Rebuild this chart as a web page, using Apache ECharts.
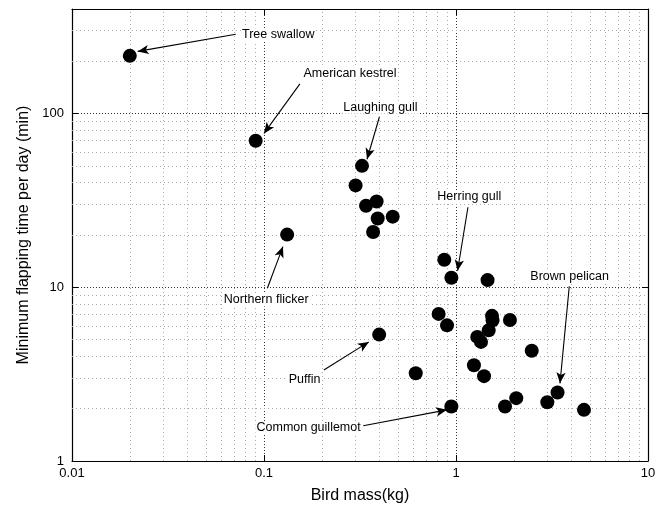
<!DOCTYPE html>
<html>
<head>
<meta charset="utf-8">
<script src="https://cdn.jsdelivr.net/npm/echarts@6/dist/echarts.min.js"></script>
<style>html,body{margin:0;padding:0;background:#fff;}#c{width:670px;height:509px;}</style>
</head>
<body>
<div id="c"></div>
<script>
// Bird mass (kg) and minimum flapping time per day (min)
const birdMass = [0.020, 0.0905, 0.324, 0.300, 0.340, 0.386, 0.391, 0.468, 0.370, 0.132,
  0.869, 0.946, 1.46, 0.398, 0.812, 0.898, 1.54, 1.55, 1.48, 1.91, 1.29, 1.35, 2.48,
  0.617, 1.24, 1.40, 0.946, 1.80, 2.06, 2.99, 3.38, 4.64];
const flapTime = [215, 69.7, 50.0, 38.6, 29.5, 31.2, 24.9, 25.5, 20.8, 20.1,
  14.4, 11.35, 11.0, 5.34, 7.03, 6.04, 6.85, 6.45, 5.65, 6.48, 5.18, 4.85, 4.31,
  3.20, 3.56, 3.08, 2.06, 2.06, 2.30, 2.18, 2.48, 1.97];

// annotations: label text, label position, arrow start, arrow end (data units)
const annNames = ['Tree swallow', 'American kestrel', 'Laughing gull', 'Herring gull',
  'Northern flicker', 'Brown pelican', 'Puffin', 'Common guillemot'];
const annLabelPos = [[0.1186, 284], [0.2806, 170], [0.404, 108.7], [1.173, 33.2],
  [0.1027, 8.46], [3.905, 11.6], [0.1627, 2.95], [0.1707, 1.55]];
const annFrom = [[0.0713, 286], [0.1538, 148.4], [0.399, 95.6], [1.154, 28.9],
  [0.1041, 9.87], [3.89, 10.13], [0.205, 3.34], [0.3286, 1.597]];
const annTo = [[0.02198, 228], [0.1, 76.9], [0.344, 54.6], [1.019, 12.45],
  [0.1255, 17.15], [3.48, 2.80], [0.3516, 4.85], [0.898, 1.97]];

const xTickLabels = ['0.01', '0.1', '1', '10'];
const yTickLabels = ['1', '10', '100'];
const xMinorGrid = [0.02,0.03,0.04,0.05,0.06,0.07,0.08,0.09,0.2,0.3,0.4,0.5,0.6,0.7,0.8,0.9,2,3,4,5,6,7,8,9];
const yMinorGrid = [2,3,4,5,6,7,8,9,20,30,40,50,60,70,80,90,200,300];

const FONT = '"Liberation Sans", Arial, Helvetica, sans-serif';
const points = birdMass.map((m, i) => [m, flapTime[i]]);

const chart = echarts.init(document.getElementById('c'), null, {renderer: 'canvas'});

const majorSplit = {show: true, lineStyle: {color: '#333', type: [1, 2], width: 1}};
const minorStyle = {color: '#aaa', type: [1, 3], width: 1};

const gridLines = [];
xMinorGrid.forEach(v => gridLines.push({xAxis: v, lineStyle: minorStyle}));
yMinorGrid.forEach(v => gridLines.push({yAxis: v, lineStyle: minorStyle}));

const arrows = annNames.map((n, i) => [
  {coord: annFrom[i], symbol: 'none'},
  {coord: annTo[i], symbol: 'arrow', symbolSize: [7, 11]}
]);

const axisCommonX = {
  type: 'log', logBase: 10, min: 0.01, max: 10,
  axisLine: {show: true, onZero: false, lineStyle: {color: '#000', width: 1.2}},
};
const axisCommonY = {
  type: 'log', logBase: 10, min: 1, max: 400,
  axisLine: {show: true, onZero: false, lineStyle: {color: '#000', width: 1.2}},
};

chart.setOption({
  animation: false,
  backgroundColor: '#fff',
  grid: {left: 72, right: 22, top: 9, bottom: 46, containLabel: false},
  xAxis: [
    Object.assign({}, axisCommonX, {
      position: 'bottom',
      name: 'Bird mass(kg)', nameLocation: 'middle', nameGap: 27,
      nameTextStyle: {fontFamily: FONT, fontSize: 16, color: '#000'},
      axisTick: {show: true, inside: true, length: 6, lineStyle: {color: '#000'}},
      axisLabel: {fontFamily: FONT, fontSize: 13, color: '#000', margin: 6,
        formatter: v => { const s = xTickLabels.find(t => Math.abs(parseFloat(t) - v) < 1e-9); return s || ''; }},
      splitLine: majorSplit
    }),
    Object.assign({}, axisCommonX, {
      position: 'top',
      axisTick: {show: true, inside: true, length: 6, lineStyle: {color: '#000'}},
      axisLabel: {show: false}, splitLine: {show: false}
    })
  ],
  yAxis: [
    Object.assign({}, axisCommonY, {
      position: 'left',
      name: 'Minimum flapping time per day (min)', nameLocation: 'middle', nameGap: 38,
      nameTextStyle: {fontFamily: FONT, fontSize: 16, color: '#000'},
      axisTick: {show: true, inside: true, length: 6, lineStyle: {color: '#000'}},
      axisLabel: {fontFamily: FONT, fontSize: 13, color: '#000', margin: 8,
        formatter: v => { const s = yTickLabels.find(t => Math.abs(parseFloat(t) - v) < 1e-6); return s || ''; }},
      splitLine: majorSplit
    }),
    Object.assign({}, axisCommonY, {
      position: 'right',
      axisTick: {show: true, inside: true, length: 6, lineStyle: {color: '#000'}},
      axisLabel: {show: false}, splitLine: {show: false}
    })
  ],
  series: [
    {
      type: 'line', data: [], z: 1, silent: true,
      markLine: {silent: true, symbol: 'none', label: {show: false}, animation: false, data: gridLines}
    },
    {
      type: 'scatter', data: points, symbol: 'circle', symbolSize: 14, z: 5,
      itemStyle: {color: '#000', borderWidth: 0, opacity: 1}
    },
    {
      type: 'scatter', z: 6, symbolSize: 0, silent: true,
      itemStyle: {opacity: 1},
      data: annNames.map((n, i) => ({name: n, value: annLabelPos[i]})),
      label: {show: true, position: 'inside', formatter: '{b}', fontFamily: FONT, fontSize: 12.5, color: '#000',
        textBorderWidth: 0, backgroundColor: '#fff', padding: [0, 1]},
      markLine: {silent: true, label: {show: false}, animation: false,
        lineStyle: {color: '#000', width: 1.1, type: 'solid', opacity: 1},
        data: arrows}
    }
  ]
});
</script>
</body>
</html>
